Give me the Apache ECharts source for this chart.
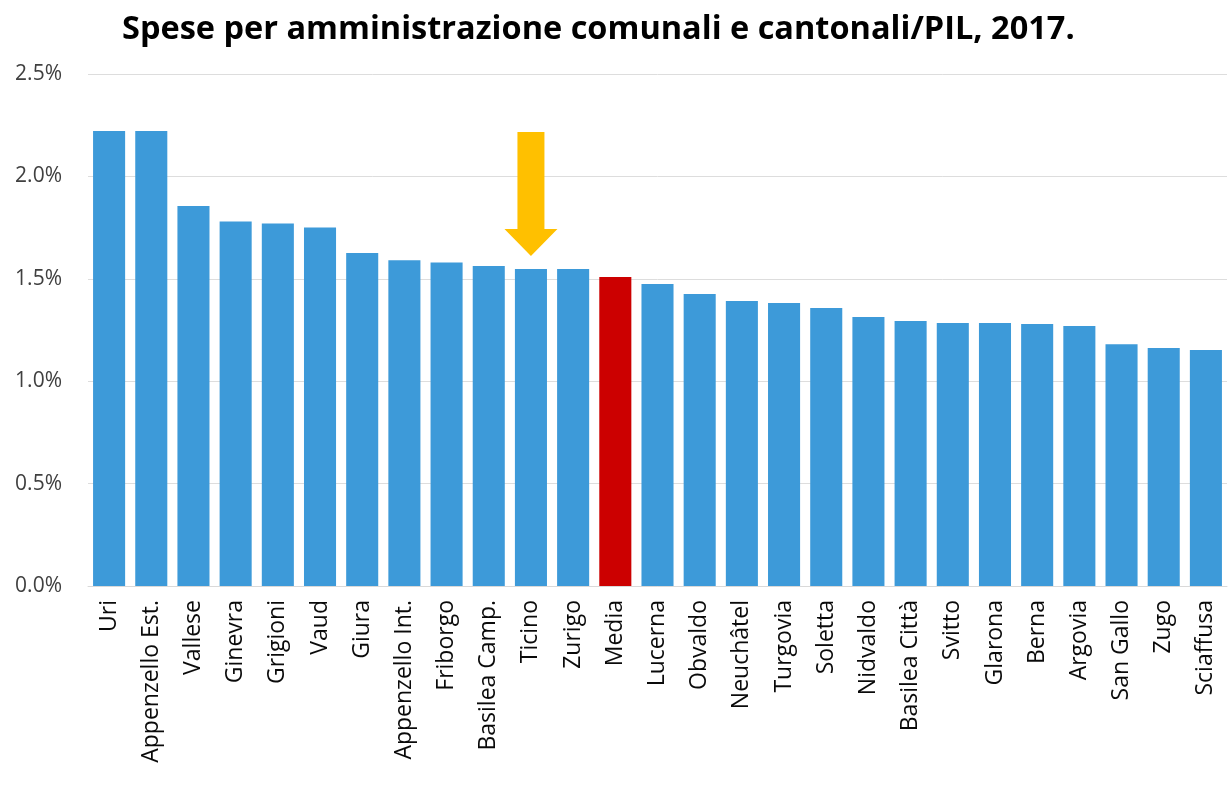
<!DOCTYPE html>
<html><head><meta charset="utf-8">
<script src="https://cdn.jsdelivr.net/npm/echarts@6/dist/echarts.min.js"></script>
<style>html,body{margin:0;padding:0;background:#fff}#c{width:1229px;height:807px}</style>
</head><body><div id="c"></div>
<script>
const categories = ["Uri","Appenzello Est.","Vallese","Ginevra","Grigioni","Vaud","Giura","Appenzello Int.","Friborgo","Basilea Camp.","Ticino","Zurigo","Media","Lucerna","Obvaldo","Neuchâtel","Turgovia","Soletta","Nidvaldo","Basilea Città","Svitto","Glarona","Berna","Argovia","San Gallo","Zugo","Sciaffusa"];
const values = [2.222,2.222,1.855,1.78,1.77,1.75,1.626,1.59,1.58,1.563,1.548,1.548,1.509,1.475,1.426,1.392,1.382,1.357,1.313,1.294,1.284,1.284,1.279,1.27,1.18,1.162,1.152];
const highlight = "Media";
const pointed = "Ticino";
const yTicks = [0, 0.5, 1.0, 1.5, 2.0, 2.5];

const chart = echarts.init(document.getElementById('c'));
chart.setOption({
  animation: false,
  title: {
    text: "Spese per amministrazione comunali e cantonali/PIL, 2017.",
    left: 117, top: 8,
    textStyle: {fontFamily: 'Open Sans', fontWeight: 'bold', fontSize: 32.5, color: '#000'}
  },
  grid: {left: 88, right: 2, top: 74, bottom: 221},
  xAxis: {
    type: 'category', data: categories,
    axisLine: {lineStyle: {color: '#d9d9d9'}},
    axisTick: {show: false},
    axisLabel: {rotate: 90, interval: 0, fontFamily: 'Open Sans', fontSize: 23, color: '#0a0a0a', margin: 14}
  },
  yAxis: {
    type: 'value', min: 0, max: 2.5, interval: 0.5,
    axisLine: {show: false}, axisTick: {show: false},
    splitLine: {lineStyle: {color: '#dddddd'}},
    axisLabel: {formatter: v => v.toFixed(1) + '%', fontFamily: 'Open Sans', fontSize: 21, color: '#404040', margin: 26}
  },
  series: [{
    type: 'bar', barCategoryGap: '24%',
    data: categories.map((c, i) => ({value: values[i], itemStyle: {color: c === highlight ? '#cc0000' : '#3d9ad9'}})),
    markPoint: {
      silent: true,
      data: [{
        coord: [pointed, values[categories.indexOf(pointed)]],
        symbol: 'path://M13,0 L40,0 L40,97 L53,97 L26.5,124 L0,97 L13,97 Z',
        symbolSize: [53, 124],
        symbolOffset: [0, -75],
        itemStyle: {color: '#ffc000'},
        label: {show: false}
      }]
    }
  }]
});
</script></body></html>
